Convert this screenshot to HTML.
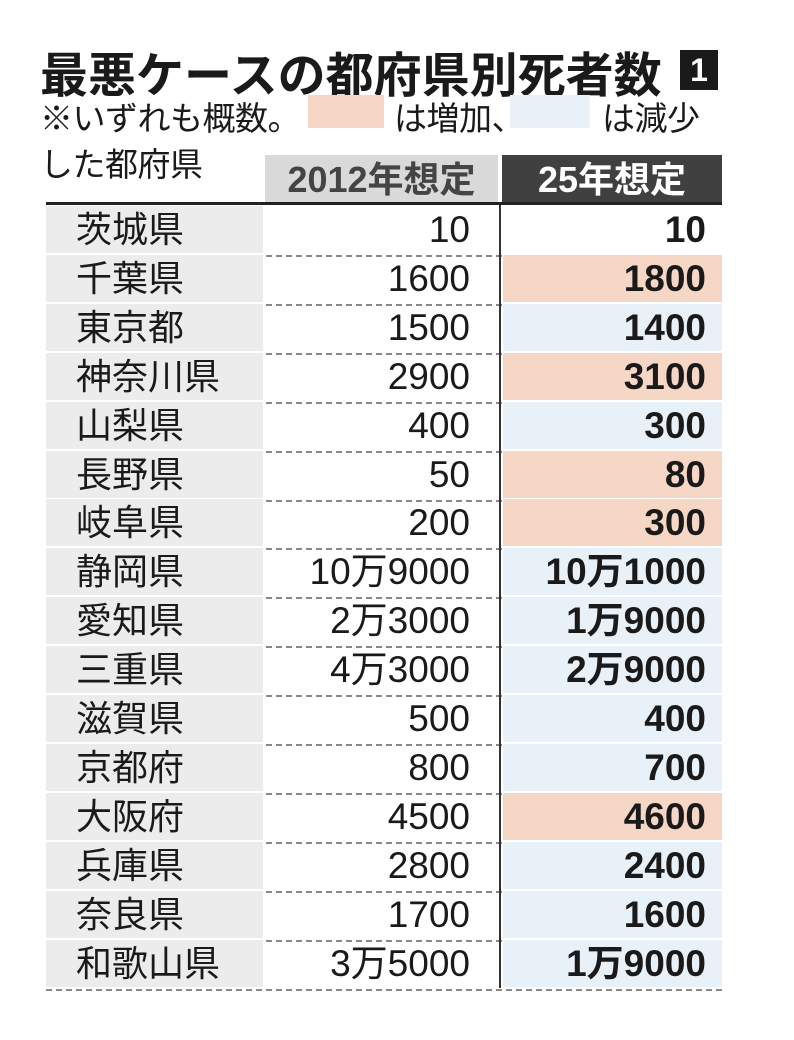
<!DOCTYPE html>
<html><head><meta charset="utf-8"><style>
body{margin:0;width:794px;height:1040px;background:#fff;position:relative;overflow:hidden;font-family:"Liberation Sans","Noto Sans CJK JP",sans-serif;color:#1a1a1a}
.a{position:absolute}
.title{left:40px;top:36px;font-size:48px;font-weight:bold;letter-spacing:0px;white-space:nowrap}
.sub{font-size:33px;white-space:nowrap;letter-spacing:-0.5px}
.row{position:absolute;left:46px;width:676px;height:49px;border-bottom:2px dashed #888}
.nm{position:absolute;left:0;top:0;width:217px;height:47px;background:#ececec;font-size:36px;line-height:47px;padding-left:30px;box-sizing:border-box}
.c2{position:absolute;left:217px;width:207px;text-align:right;font-size:37px;line-height:47px;top:0;font-family:"Liberation Sans Narrow","Liberation Sans","Noto Sans CJK JP",sans-serif}
.c3{position:absolute;left:457px;width:219px;height:47px;top:0;box-sizing:border-box;padding-right:16px;text-align:right;font-size:37px;line-height:47px;font-weight:bold;font-family:"Liberation Sans Narrow","Liberation Sans","Noto Sans CJK JP",sans-serif}
.o{background:#f6d6c4}.b{background:#e9f1f8}
</style></head><body>
<div class="a title">最悪ケースの都府県別死者数</div>
<div class="a" style="left:680px;top:50px;width:38px;height:40px;background:#1a1a1a;color:#fff;font-size:32px;font-weight:bold;line-height:40px;text-align:center">1</div>
<div class="a sub" style="left:40px;top:92px">※いずれも概数。</div>
<div class="a o" style="left:308px;top:95px;width:76px;height:33px"></div>
<div class="a sub" style="left:394px;top:92px">は増加、</div>
<div class="a b" style="left:510px;top:95px;width:80px;height:33px"></div>
<div class="a sub" style="left:602px;top:92px">は減少</div>
<div class="a sub" style="left:40px;top:138px">した都府県</div>
<div class="a" style="left:265px;top:155px;width:233px;height:48px;background:#d9d9d9;color:#444;font-size:36px;font-weight:bold;line-height:50px;text-align:center">2012年想定</div>
<div class="a" style="left:502px;top:155px;width:220px;height:48px;background:#404040;color:#fff;font-size:36px;font-weight:bold;line-height:50px;text-align:center">25年想定</div>
<div class="a" style="left:46px;top:202px;width:676px;height:3px;background:#222"></div>
<div class="a" style="left:499px;top:205px;width:1.5px;height:783px;background:#333;z-index:2"></div>
<div id="t"></div>
<script>
var d=[["茨城県","10","10",""],["千葉県","1600","1800","o"],["東京都","1500","1400","b"],["神奈川県","2900","3100","o"],["山梨県","400","300","b"],["長野県","50","80","o"],["岐阜県","200","300","o"],["静岡県","10万9000","10万1000","b"],["愛知県","2万3000","1万9000","b"],["三重県","4万3000","2万9000","b"],["滋賀県","500","400","b"],["京都府","800","700","b"],["大阪府","4500","4600","o"],["兵庫県","2800","2400","b"],["奈良県","1700","1600","b"],["和歌山県","3万5000","1万9000","b"]];
var h="";d.forEach(function(r,i){h+='<div class="row" style="top:'+(206+i*48.9)+'px"><div class="nm">'+r[0]+'</div><div class="c2">'+r[1]+'</div><div class="c3 '+r[3]+'">'+r[2]+'</div></div>';});
document.getElementById("t").innerHTML=h;
</script>
</body></html>
